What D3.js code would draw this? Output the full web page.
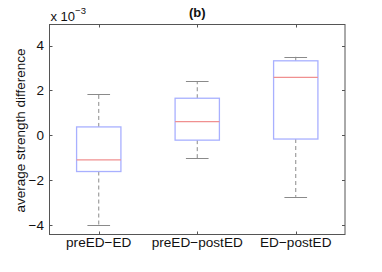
<!DOCTYPE html>
<html>
<head>
<meta charset="utf-8">
<script src="https://cdn.jsdelivr.net/npm/d3@7"></script>
<style>
	body{ margin:0; background:#fff; }
	text{ font-family:"Liberation Sans", Arial, sans-serif; fill:#111; }
</style>
</head>
<body>
<div id="chart"></div>
<script>
// values in units of 1e-3
var categories = ["preED\u2212ED", "preED\u2212postED", "ED\u2212postED"];
var whiskerLow = [-4.02, -1.03, -2.75];
var q1 = [-1.62, -0.22, -0.17];
var median = [-1.10, 0.61, 2.58];
var q3 = [0.37, 1.65, 3.32];
var whiskerHigh = [1.86, 2.40, 3.51];
var yTicks = [-4, -2, 0, 2, 4];

var width = 382, height = 272;
var margin = {left: 49.5, right: 37, top: 24.5, bottom: 37.5};

var svg = d3.select("#chart").append("svg")
	.attr("width", width)
	.attr("height", height);

var x = d3.scaleLinear()
	.domain([0.5, 3.5])
	.range([margin.left, width - margin.right]);

var y = d3.scaleLinear()
	.domain([-4.43, 4.94])
	.range([height - margin.bottom, margin.top]);

var boxes = categories.map(function(c, i){
	return {i: i + 1, name: c, lo: whiskerLow[i], q1: q1[i], med: median[i], q3: q3[i], hi: whiskerHigh[i]};
});

var boxW = 0.45, capW = 0.23;

var g = svg.append("g").selectAll("g")
		.data(boxes)
	.enter().append("g");

// whiskers
g.append("line")
	.attr("x1", function(d){ return x(d.i); })
	.attr("x2", function(d){ return x(d.i); })
	.attr("y1", function(d){ return y(d.q3); })
	.attr("y2", function(d){ return y(d.hi); })
	.attr("stroke", "#8a8a8a").attr("stroke-dasharray", "4,3");
g.append("line")
	.attr("x1", function(d){ return x(d.i); })
	.attr("x2", function(d){ return x(d.i); })
	.attr("y1", function(d){ return y(d.q1); })
	.attr("y2", function(d){ return y(d.lo); })
	.attr("stroke", "#8a8a8a").attr("stroke-dasharray", "4,3");

// caps
["lo", "hi"].forEach(function(k){
	g.append("line")
		.attr("x1", function(d){ return x(d.i - capW / 2); })
		.attr("x2", function(d){ return x(d.i + capW / 2); })
		.attr("y1", function(d){ return Math.round(y(d[k])) + 0.5; })
		.attr("y2", function(d){ return Math.round(y(d[k])) + 0.5; })
		.attr("stroke", "#8a8a8a");
});

// boxes
g.append("rect")
	.attr("x", function(d){ return x(d.i - boxW / 2); })
	.attr("width", x(boxW) - x(0))
	.attr("y", function(d){ return y(d.q3); })
	.attr("height", function(d){ return y(d.q1) - y(d.q3); })
	.attr("fill", "none")
	.attr("stroke", "#a8b0ff")
	.attr("stroke-width", 1.3);

// medians
g.append("line")
	.attr("x1", function(d){ return x(d.i - boxW / 2); })
	.attr("x2", function(d){ return x(d.i + boxW / 2); })
	.attr("y1", function(d){ return y(d.med); })
	.attr("y2", function(d){ return y(d.med); })
	.attr("stroke", "#f09090")
	.attr("stroke-width", 1.2);

// axes box
var axisColor = "#555";
var x0 = x.range()[0], x1 = x.range()[1], y0 = y.range()[0], y1 = y.range()[1];
svg.append("rect")
	.attr("x", x0).attr("y", y1)
	.attr("width", x1 - x0).attr("height", y0 - y1)
	.attr("fill", "none").attr("stroke", axisColor);

var tickLen = 3;
var yt = svg.append("g").selectAll("g").data(yTicks).enter().append("g");
yt.append("line")
	.attr("x1", x0).attr("x2", x0 + tickLen)
	.attr("y1", function(d){ return Math.round(y(d)) + 0.5; })
	.attr("y2", function(d){ return Math.round(y(d)) + 0.5; })
	.attr("stroke", axisColor);
yt.append("line")
	.attr("x1", x1).attr("x2", x1 - tickLen)
	.attr("y1", function(d){ return Math.round(y(d)) + 0.5; })
	.attr("y2", function(d){ return Math.round(y(d)) + 0.5; })
	.attr("stroke", axisColor);
yt.append("text")
	.attr("x", x0 - 5.5)
	.attr("y", function(d){ return y(d); })
	.attr("dy", "0.36em")
	.attr("text-anchor", "end")
	.style("font-size", "13.5px")
	.text(function(d){ return d < 0 ? "\u2212" + Math.abs(d) : d; });

var xt = svg.append("g").selectAll("g").data(boxes).enter().append("g");
xt.append("line")
	.attr("x1", function(d){ return Math.round(x(d.i)) + 0.5; })
	.attr("x2", function(d){ return Math.round(x(d.i)) + 0.5; })
	.attr("y1", y0).attr("y2", y0 - tickLen)
	.attr("stroke", axisColor);
xt.append("line")
	.attr("x1", function(d){ return Math.round(x(d.i)) + 0.5; })
	.attr("x2", function(d){ return Math.round(x(d.i)) + 0.5; })
	.attr("y1", y1).attr("y2", y1 + tickLen)
	.attr("stroke", axisColor);
xt.append("text")
	.attr("x", function(d){ return x(d.i); })
	.attr("y", y0 + 12.8)
	.attr("text-anchor", "middle")
	.style("font-size", "13.6px")
	.text(function(d){ return d.name; });

// title
svg.append("text")
	.attr("x", (x0 + x1) / 2)
	.attr("y", 17)
	.attr("text-anchor", "middle")
	.style("font-size", "13px")
	.style("font-weight", "bold")
	.text("(b)");

// exponent
var ex = svg.append("text")
	.attr("x", x0 + 1)
	.attr("y", 21)
	.style("font-size", "13px");
ex.append("tspan").text("x 10");
ex.append("tspan").attr("dy", -7).style("font-size", "9.5px").text("\u22123");

// y label
svg.append("text")
	.attr("transform", "translate(24.5," + ((y0 + y1) / 2 + 1) + ") rotate(-90)")
	.attr("text-anchor", "middle")
	.style("font-size", "13.5px")
	.text("average strength difference");
</script>
</body>
</html>
